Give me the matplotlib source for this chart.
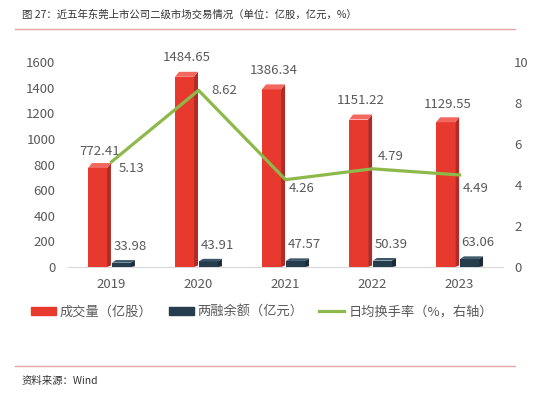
import numpy as np
import matplotlib
matplotlib.use('Agg')
import matplotlib.pyplot as plt
from matplotlib.lines import Line2D
from matplotlib.patches import Patch

plt.rcParams['font.family'] = ['Noto Sans CJK SC', 'DejaVu Sans']

# data
years = ['2019', '2020', '2021', '2022', '2023']
volume = [772.41, 1484.65, 1386.34, 1151.22, 1129.55]      # 成交量（亿股）
margin = [33.98, 43.91, 47.57, 50.39, 63.06]               # 两融余额（亿元）
turnover = [5.13, 8.62, 4.26, 4.79, 4.49]                  # 日均换手率（%）

# label offsets in points (for the turnover labels / volume labels)
turn_off = [(5, -5), (9, 0), (2, -6), (4, 9), (2, -10)]
vol_off = [7, 9, 9, 9, 8]

RED, RED_SIDE, RED_TOP = '#e8392f', '#b32b25', '#f2675e'
NAVY, NAVY_SIDE, NAVY_TOP = '#263d4d', '#1a2b37', '#3c566a'
GREEN = '#8db84a'
GRAY = '#595959'


def bar3d(ax, x0, w, h, face, side, top, dx=0.046, dy=39):
    ax.fill([x0, x0 + w, x0 + w, x0], [0, 0, h, h], color=face, lw=0, zorder=3)
    ax.fill([x0 + w, x0 + w + dx, x0 + w + dx, x0 + w],
            [0, dy * 0.3, h + dy, h], color=side, lw=0, zorder=3)
    ax.fill([x0, x0 + w, x0 + w + dx, x0 + dx],
            [h, h, h + dy, h + dy], color=top, lw=0, zorder=3)


fig = plt.figure(figsize=(5.54, 3.93), dpi=100)
ax = fig.add_axes([0.1227, 0.3206, 0.7855, 0.5216])
ax2 = ax.twinx()

x = np.arange(len(years))
w = 0.218
for i in x:
    bar3d(ax, i - 0.27, w, volume[i], RED, RED_SIDE, RED_TOP)
    bar3d(ax, i + 0.005, w, margin[i], NAVY, NAVY_SIDE, NAVY_TOP, dy=20)
    ax.annotate(f'{volume[i]:.2f}', (i - 0.14, volume[i]), xytext=(0, vol_off[i]),
                textcoords='offset points', ha='center', va='bottom',
                fontsize=9.5, color=GRAY)
    ax.annotate(f'{margin[i]:.2f}', (i + 0.02, margin[i]), xytext=(0, 7),
                textcoords='offset points', ha='left', va='bottom',
                fontsize=9.5, color=GRAY)

ax.set_xlim(-0.5, len(years) - 0.5)
ax.set_ylim(0, 1600)
ax.set_yticks(np.arange(0, 1601, 200))
ax.set_xticks(x)
ax.set_xticklabels(years)

ax2.plot(x, turnover, color=GREEN, lw=2.3, zorder=4)
for i in x:
    ax2.annotate(f'{turnover[i]:.2f}', (i, turnover[i]), xytext=turn_off[i],
                 textcoords='offset points', ha='left', va='center',
                 fontsize=9.5, color=GRAY)
ax2.set_ylim(0, 10)
ax2.set_yticks(np.arange(0, 11, 2))

for a in (ax, ax2):
    for s in a.spines.values():
        s.set_visible(False)
    a.tick_params(length=0, colors=GRAY, labelsize=9.5)
ax.spines['bottom'].set_visible(True)
ax.spines['bottom'].set_color('#d9d9d9')
ax.tick_params(axis='y', pad=9)
ax.tick_params(axis='x', pad=8)
ax2.tick_params(axis='y', pad=8)

handles = [Patch(color=RED), Patch(color=NAVY), Line2D([], [], color=GREEN, lw=2.3)]
labels = ['成交量（亿股）', '两融余额（亿元）', '日均换手率（%，右轴）']
fig.legend(handles, labels, loc='center', bbox_to_anchor=(262 / 554, 0.206), ncol=3,
           frameon=False, fontsize=9.5, handlelength=1.9, handleheight=0.6,
           handletextpad=0.3, columnspacing=1.2, labelcolor=GRAY)

fig.text(22 / 554, 1 - 15 / 393, '图 27：近五年东莞上市公司二级市场交易情况（单位：亿股，亿元，%）',
         fontsize=7.5, color='#333333', va='center', ha='left')
fig.add_artist(Line2D([15 / 554, 515 / 554], [1 - 29 / 393] * 2, color='#e9a3a3', lw=1))
fig.add_artist(Line2D([15 / 554, 515 / 554], [1 - 366 / 393] * 2, color='#e9a3a3', lw=1))
fig.text(22 / 554, 1 - 381 / 393, '资料来源：Wind', fontsize=7.5, color='#333333',
         va='center', ha='left')

fig.savefig('out.png', dpi=100)
